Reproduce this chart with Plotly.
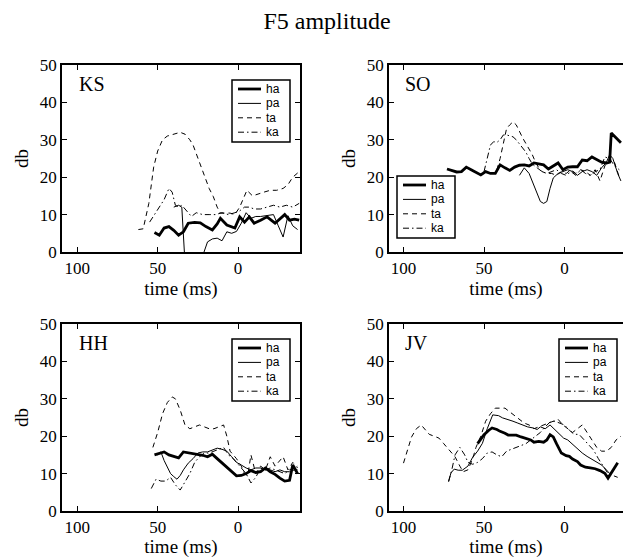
import plotly.graph_objects as go

# F5 amplitude (db) against time (ms), time axis reversed
ks_ha_t = [52, 49, 46, 43, 40, 37, 34, 31, 27, 23.5, 20, 16, 13, 11, 7, 4, 2, -1, -4, -7, -10, -14, -18, -23, -26, -29, -32, -35, -38]
ks_ha_db = [5.2, 4.5, 6.4, 6.8, 5.8, 4.5, 5.4, 7.7, 7.9, 7.8, 6.8, 5.9, 7.5, 9, 7.2, 6.6, 6.4, 9.4, 8, 9.4, 7.7, 8.5, 9.4, 7.7, 8.8, 10, 8.5, 8.8, 8.5]
ks_pa_t = [40, 37, 35, 33, 30, 26, 22, 19, 16, 13, 10, 7, 4, 1, -2, -5, -8, -11, -14, -18, -22, -25, -28, -31, -34, -37]
ks_pa_db = [12, 12.5, 12, -3, -5, -5, -1, 2.7, 3.5, 3.7, 3.0, 5.4, 5, 5.5, 7.7, 10.5, 9, 9.5, 9.5, 9.8, 10, 7, 4, 9.7, 7, 6]
ks_ta_t = [62, 59, 55.5, 52.5, 50, 47, 44, 42, 39, 36, 33, 30, 28, 25, 21.6, 18, 15.4, 13, 11, 8, 5, 2, -1, -3, -5.5, -9, -12, -16, -20, -24, -28, -31, -34, -38]
ks_ta_db = [6, 6.2, 13, 22.7, 27, 30, 31, 31.3, 31.7, 32, 31.5, 30, 28.6, 25, 21, 17, 14.8, 12, 10.4, 10.4, 10.4, 10, 12, 14, 16.5, 15, 15.5, 16, 16.5, 16.5, 17, 18, 20, 21.5]
ks_ka_t = [55, 52, 49, 46, 43, 41, 39, 37, 35, 32, 29, 26, 22, 18, 14, 10, 6, 2, -1, -4, -7, -10, -14, -18, -22, -26, -30, -34, -38]
ks_ka_db = [8, 10, 12, 14, 17, 16, 12.5, 12, 12.5, 11, 9.5, 10.5, 10, 10, 10, 10.5, 10, 10.5, 11, 12, 12, 11.5, 11.5, 12, 12.5, 12, 12.5, 12, 13]

so_ha_t = [73, 70, 67, 64, 61, 58, 55, 52, 49, 46, 43, 40, 37, 34, 31, 28, 25, 22, 19, 16, 13, 10, 7, 4, 1, -2, -5, -8, -11, -14, -17, -20, -23, -26, -28, -29, -32, -35]
so_ha_db = [22.2, 21.7, 21.4, 21.5, 22.7, 22, 21.3, 20.6, 21.5, 21, 21, 23.3, 22.5, 21.8, 22.7, 23.2, 23.3, 23, 23.8, 23.5, 23.3, 22.2, 23, 23.8, 22, 22.7, 22.8, 22.8, 24.6, 24.4, 25.4, 24.8, 24, 23.8, 24, 31.8, 30.5, 29.2]
so_pa_t = [28, 25, 22, 19, 17, 15, 13, 11, 9, 7, 4, 1, -2, -5, -8, -11, -14, -17, -20, -23, -26, -28, -30, -33, -35]
so_pa_db = [20.5, 22.5, 21, 18, 16, 13.5, 13, 13.5, 17, 19.8, 21, 21.5, 22, 21.5, 20.5, 21.5, 22, 21.5, 20.5, 22.5, 24, 26, 25, 21, 19]
so_ta_t = [42, 40, 38, 36, 34, 32, 30, 28, 26, 24, 22, 20, 18, 16, 14, 11, 8, 5, 2, -1, -4, -7, -10, -13, -16, -19, -22, -25, -28, -31, -34]
so_ta_db = [22, 25, 29, 33, 34, 34.8, 34, 32, 30.5, 29, 27.5, 26, 24, 22.5, 21.5, 21, 21, 20.5, 21.5, 21, 22, 21, 22, 21.5, 20.5, 22, 19, 23, 25, 24, 20]
so_ka_t = [50, 48, 46, 44, 42, 40, 38, 36, 34, 32, 30, 28, 26, 24, 22, 20, 17, 14, 11, 8, 5, 2, -1, -4, -7, -10, -13, -16, -19, -22, -25, -28, -31, -34]
so_ka_db = [21.5, 25, 28.6, 29.5, 29.3, 30, 31.3, 31.3, 31, 30.8, 30, 29, 28, 26.7, 25, 23.5, 22.5, 21.5, 21, 21.5, 22, 21, 20.5, 21.5, 20.5, 22, 21, 20.5, 21.5, 22, 25.4, 25, 23, 22]

hh_ha_t = [52, 49, 46, 43, 40, 37, 34, 31, 28, 25, 22, 19, 16, 13, 10, 7, 4, 1, -2, -5, -8, -11, -14, -17, -20, -23, -26, -29, -32, -34, -37]
hh_ha_db = [15, 15.3, 15.8, 15, 14.6, 14.2, 15.8, 15.6, 15.5, 15.2, 14.9, 14.5, 15.2, 14, 12.8, 11.8, 10.6, 9.4, 9.5, 10, 10.8, 10.3, 10.5, 11.5, 10.5, 9.8, 8.8, 8, 8.2, 12.3, 10]
hh_pa_t = [50, 48, 46, 44, 42, 40, 38, 36, 34, 31, 28, 25, 22, 19, 16, 13, 10, 7, 4, 1, -2, -5, -8, -11, -14, -17, -20, -23, -26, -29, -32, -35, -37]
hh_pa_db = [15, 15.8, 13.5, 11.8, 10, 9.2, 8.5, 9.5, 11, 12.8, 14, 15.5, 15.8, 15.8, 16.3, 16.8, 16.5, 16, 14.5, 13, 12.3, 11.5, 11, 11.5, 11.5, 11, 11, 10.5, 11, 10.5, 10.5, 11, 11]
hh_ta_t = [53, 50, 47, 44, 41, 39, 36, 33, 30, 27, 24, 21, 18, 15, 12, 9, 7, 5, 3, 1, -2, -4, -6, -8, -11, -14, -17, -20, -23, -26, -28, -31, -34, -37]
hh_ta_db = [17, 21, 26, 29, 30.5, 30, 27, 23, 22, 22.5, 23, 22.5, 22, 22, 22.5, 23, 20, 16, 15, 14, 12, 10, 9.5, 15, 10, 12, 11, 14.5, 12, 13.5, 14.5, 11, 13, 11.5]
hh_ka_t = [54, 51, 48, 45, 42, 39, 36, 33, 30, 27, 24, 21, 18, 15, 12, 9, 6, 3, 0, -3, -5, -8, -11, -14, -17, -20, -23, -26, -29, -32, -35, -37]
hh_ka_db = [6, 8.5, 8, 8, 9, 7, 5.6, 8, 10, 13, 14.5, 15.5, 15.5, 16, 16.5, 17, 15, 14, 12.5, 11, 10, 7.5, 9, 11.5, 11, 11.5, 11, 10.5, 10, 11, 11.5, 12]

jv_ha_t = [54, 50, 47, 45, 42, 40, 37, 35, 32, 30, 27, 24, 21, 19, 16, 13, 11, 9, 7, 5, 2, -1, -3, -5, -8, -10, -13, -16, -19, -22, -25, -27, -30, -33]
jv_ha_db = [18, 20.4, 21.6, 22.2, 21.8, 21.3, 20.8, 20.3, 20.3, 20.3, 19.8, 19.5, 19, 18.4, 18.6, 18.4, 19, 20.4, 19.8, 18, 15.5, 14.8, 14.6, 13.9, 13.2, 12.3, 11.7, 11.5, 11.3, 10.8, 10.1, 8.8, 11, 12.9]
jv_pa_t = [72, 70.5, 68.5, 66, 63.5, 60, 57, 54, 51, 48, 44.6, 41, 38.5, 35, 32, 29, 26, 23, 19.5, 17, 15, 12, 9, 6, 3, 0.6, -2, -5, -8, -11, -14, -17, -20, -23, -26, -28]
jv_pa_db = [8, 10.2, 11.2, 10.9, 10.9, 12, 14.4, 16, 18.1, 22, 25.7, 25.5, 24.9, 24.5, 24, 23.5, 23, 22.5, 22.2, 21.8, 22.5, 22, 23, 21.8, 20.5, 19.5, 19, 17.8, 16.8, 15.5, 14.6, 13.9, 13, 12.3, 11, 10]
jv_ta_t = [100, 97, 95, 92, 89, 86, 84, 81, 78, 75, 72, 70, 68, 65, 63, 60, 57, 55, 52, 49, 46, 43, 40, 37, 34, 31, 28, 25, 22, 19, 16, 13, 10, 7, 4, 1, -2, -5, -8, -11, -14, -17, -20, -23, -26, -29, -32, -35]
jv_ta_db = [12.8, 17, 19.8, 22, 23, 21.5, 20.5, 20, 19.5, 18, 16.5, 15.5, 14.5, 12, 10.5, 11, 14, 17, 20, 24, 26, 27.5, 27.5, 27.5, 26.5, 25.5, 24.5, 23.5, 23, 22, 22.5, 23, 23.5, 24, 24.5, 23, 22, 21, 22, 23, 21, 19, 17, 16, 16, 17, 19, 20]
jv_ka_t = [72, 70, 68, 65, 62, 60, 57, 54, 51, 48, 45, 42, 39, 36, 33, 30, 27, 24, 21, 18, 15, 12, 9, 6, 3, 0, -3, -6, -9, -12, -15, -18, -21, -24, -27, -30, -33]
jv_ka_db = [7.8, 11, 15, 17, 15, 13, 12.5, 13, 14, 15.5, 15.8, 15, 14.5, 16, 16.5, 17, 17.5, 18, 19, 20, 21, 22.5, 23.8, 24, 23.5, 23, 21.6, 20.5, 20.5, 19, 17.5, 16.3, 14, 12, 10, 9.5, 9]

x_ticks = [100, 50, 0]
y_ticks = [0, 10, 20, 30, 40, 50]
labels = ["ha", "pa", "ta", "ka"]

SERIF = "Liberation Serif, Times New Roman, serif"
SANS = "Liberation Sans, Arial, sans-serif"
W, H = 623, 558

STYLE = {
    "ha": dict(color="black", width=2.8),
    "pa": dict(color="black", width=1),
    "ta": dict(color="black", width=1, dash="5px,4px"),
    "ka": dict(color="black", width=1, dash="6px,3px,1.5px,3px"),
}

# name, axis number, series, legend box top-left in px
panels = [
    ("KS", 1, {"ha": (ks_ha_t, ks_ha_db), "pa": (ks_pa_t, ks_pa_db), "ta": (ks_ta_t, ks_ta_db), "ka": (ks_ka_t, ks_ka_db)}, (232, 80)),
    ("SO", 2, {"ha": (so_ha_t, so_ha_db), "pa": (so_pa_t, so_pa_db), "ta": (so_ta_t, so_ta_db), "ka": (so_ka_t, so_ka_db)}, (397, 176)),
    ("HH", 3, {"ha": (hh_ha_t, hh_ha_db), "pa": (hh_pa_t, hh_pa_db), "ta": (hh_ta_t, hh_ta_db), "ka": (hh_ka_t, hh_ka_db)}, (232, 339)),
    ("JV", 4, {"ha": (jv_ha_t, jv_ha_db), "pa": (jv_pa_t, jv_pa_db), "ta": (jv_ta_t, jv_ta_db), "ka": (jv_ka_t, jv_ka_db)}, (559, 339)),
]

px = lambda v: v / W
py = lambda v: 1 - v / H

fig = go.Figure()
for name, k, series, (lx, ly) in panels:
    sfx = "" if k == 1 else str(k)
    for lab, (t, db) in series.items():
        fig.add_trace(go.Scatter(x=t, y=db, mode="lines", name=lab, line=STYLE[lab],
                                 xaxis="x" + sfx, yaxis="y" + sfx, showlegend=False))
    fig.add_annotation(text=name, xref="x" + sfx, yref="y" + sfx, x=100, y=48.5,
                       xanchor="left", yanchor="top", showarrow=False,
                       font=dict(family=SERIF, size=20, color="black"))
    # small boxed key, drawn like the matlab legend
    fig.add_shape(type="rect", xref="paper", yref="paper", x0=px(lx), x1=px(lx + 58),
                  y0=py(ly), y1=py(ly + 62), fillcolor="white", line=dict(color="black", width=1.5))
    for i, lab in enumerate(labels):
        yy = py(ly + 9 + i * 14.4)
        fig.add_shape(type="line", xref="paper", yref="paper", x0=px(lx + 6), x1=px(lx + 29),
                      y0=yy, y1=yy, line=STYLE[lab])
        fig.add_annotation(text=lab, xref="paper", yref="paper", x=px(lx + 32), y=yy,
                           xanchor="left", yanchor="middle", showarrow=False,
                           font=dict(family=SANS, size=12, color="black"))

# panel boxes in pixels -> paper fractions
xdom = {1: [px(62), px(300)], 2: [px(389), 1.0], 3: [px(62), px(300)], 4: [px(389), 1.0]}
ydom = {1: [py(252), py(65)], 2: [py(252), py(65)], 3: [py(511), py(324)], 4: [py(511), py(324)]}
xrng = {1: [109.5, -38.5], 2: [109, -36.3], 3: [109.5, -38.5], 4: [109, -36.3]}

tick_font = dict(family=SERIF, size=17, color="black")
lab_font = dict(family=SERIF, size=19, color="black")
for k in range(1, 5):
    sfx = "" if k == 1 else str(k)
    fig.layout["xaxis" + sfx] = dict(
        domain=xdom[k], range=xrng[k], anchor="y" + sfx, tickvals=x_ticks, automargin=False,
        ticks="inside", ticklen=5, tickcolor="black", showline=True, linecolor="black",
        linewidth=1.5, mirror="ticks", showgrid=False, zeroline=False,
        tickfont=tick_font, title=dict(text="time (ms)", font=lab_font, standoff=0))
    fig.layout["yaxis" + sfx] = dict(
        domain=ydom[k], range=[0, 50], anchor="x" + sfx, tickvals=y_ticks, automargin=False,
        ticks="inside", ticklen=5, tickcolor="black", showline=True, linecolor="black",
        linewidth=1.5, mirror="ticks" if k in (1, 3) else False, showgrid=False, zeroline=False,
        tickfont=tick_font, title=dict(text="db", font=lab_font, standoff=6))

fig.update_layout(
    width=W, height=H, margin=dict(l=0, r=0, t=0, b=0),
    paper_bgcolor="white", plot_bgcolor="white", showlegend=False,
    title=dict(text="F5 amplitude", x=0.525, xanchor="center", y=py(21), yanchor="middle",
               font=dict(family=SERIF, size=24, color="black")),
)

# page has a default 8px body margin; drop it so the figure sits at the window corner
fig.write_html("out.html", config={"displayModeBar": False},
               post_script="document.body.style.margin='0';")
